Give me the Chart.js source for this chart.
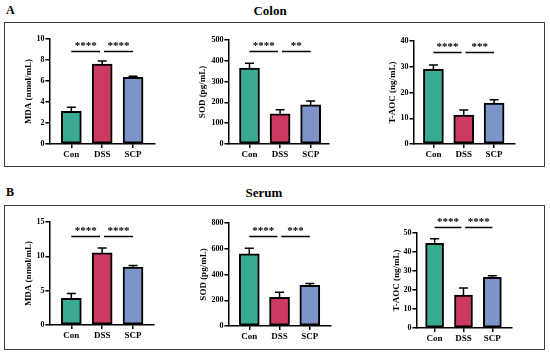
<!DOCTYPE html>
<html>
<head>
<meta charset="utf-8">
<script src="https://cdn.jsdelivr.net/npm/chart.js@4.4.1/dist/chart.umd.min.js"></script>
<style>
  body { margin: 0; background: #fff; width: 550px; height: 355px; position: relative; overflow: hidden; font-family: 'Liberation Serif', serif; font-weight: bold; }
  .frame { position: absolute; border: 1.5px solid #3c3c3c; box-sizing: border-box; }
  .lbl { position: absolute; color: #000; line-height: 1; }
  canvas { position: absolute; }
</style>
</head>
<body>
<div class="lbl" style="left:6px;top:4px;font-size:12px">A</div>
<div class="lbl" style="left:220px;width:100px;text-align:center;top:4px;font-size:13px">Colon</div>
<div class="frame" style="left:4px;top:22px;width:541px;height:145px"></div>
<div class="lbl" style="left:6px;top:186px;font-size:12px">B</div>
<div class="lbl" style="left:214px;width:100px;text-align:center;top:186px;font-size:13px">Serum</div>
<div class="frame" style="left:4px;top:205px;width:541px;height:145px"></div>

<canvas id="c1"></canvas>
<canvas id="c2"></canvas>
<canvas id="c3"></canvas>
<canvas id="c4"></canvas>
<canvas id="c5"></canvas>
<canvas id="c6"></canvas>

<script>
// groups
const groups = ['Con', 'DSS', 'SCP']
const barColors = ['#3aab93', '#cc3a62', '#7c94c7']

// Colon
const colonMDA = [3.1, 7.6, 6.35]
const colonMDAErr = [0.4, 0.3, 0.1]
const colonMDASig = ['****', '****']
const colonSOD = [365, 145, 188]
const colonSODErr = [23, 20, 19]
const colonSODSig = ['****', '**']
const colonTAOC = [29.0, 11.2, 15.9]
const colonTAOCErr = [1.7, 2.0, 1.3]
const colonTAOCSig = ['****', '***']

// Serum
const serumMDA = [3.9, 10.5, 8.45]
const serumMDAErr = [0.7, 0.7, 0.2]
const serumMDASig = ['****', '****']
const serumSOD = [560, 222, 315]
const serumSODErr = [43, 40, 15]
const serumSODSig = ['****', '***']
const serumTAOC = [44.5, 17.3, 26.7]
const serumTAOCErr = [2.5, 3.7, 0.8]
const serumTAOCSig = ['****', '****']

// y axis ranges
const yMax = [10, 500, 40, 15, 800, 50]
const yStep = [2, 100, 10, 5, 200, 10]

const FONT = 'Liberation Serif'

// error bars + significance lines
const extras = {
    id: 'extras',
    afterDatasetsDraw(chart, args, opts) {
        const ctx = chart.ctx
        const x = chart.scales.x
        const y = chart.scales.y
        const ds = chart.data.datasets[0]
        ctx.save()
        ctx.strokeStyle = '#000'
        ctx.lineWidth = 1.5
        ds.data.forEach((p, i) => {
            const px = x.getPixelForValue(p.x)
            const base = y.getPixelForValue(p.y)
            const top = y.getPixelForValue(p.y + opts.err[i])
            ctx.beginPath()
            ctx.moveTo(px, base)
            ctx.lineTo(px, top)
            ctx.moveTo(px - 4.5, top)
            ctx.lineTo(px + 4.5, top)
            ctx.stroke()
        })
        const ly = Math.round(y.getPixelForValue(opts.bracket)) + 0.5
        const spans = [[1, 1.93], [2.06, 3]]
        ctx.fillStyle = '#000'
        ctx.font = 'bold 11px ' + FONT
        ctx.textAlign = 'center'
        ctx.textBaseline = 'alphabetic'
        spans.forEach((s, i) => {
            const a = x.getPixelForValue(s[0])
            const b = x.getPixelForValue(s[1])
            ctx.beginPath()
            ctx.moveTo(a, ly)
            ctx.lineTo(b, ly)
            ctx.stroke()
            ctx.fillText(opts.sig[i], (a + b) / 2, ly - 2.5)
        })
        ctx.restore()
    }
}

function makePanel(id, vals, errs, sig, title, yi, g) {
    const W = g.titleDist + 5.4
    const H = 18
    const padTop = 24
    const left = g.axisX - W
    const top = g.yTop - padTop
    const width = g.axisRight - left + 4
    const height = g.yBottom - top + H
    const cv = document.getElementById(id)
    cv.width = width
    cv.height = height
    cv.style.left = left + 'px'
    cv.style.top = top + 'px'

    new Chart(cv, {
        type: 'bar',
        data: {
            datasets: [{
                data: vals.map((v, i) => ({ x: i + 1, y: v })),
                backgroundColor: barColors,
                borderColor: '#000',
                borderWidth: 2,
                borderSkipped: false,
                barThickness: g.barW
            }]
        },
        options: {
            responsive: false,
            devicePixelRatio: 1,
            animation: false,
            layout: { padding: { top: padTop, right: 4, left: 0, bottom: 0 } },
            plugins: {
                legend: { display: false },
                tooltip: { enabled: false },
                extras: { err: errs, sig: sig, bracket: g.bracket }
            },
            scales: {
                x: {
                    type: 'linear',
                    offset: false,
                    min: g.xMin,
                    max: g.xMax,
                    afterBuildTicks(scale) {
                        scale.ticks = groups.map((c, i) => ({ value: i + 1 }))
                    },
                    afterFit(scale) { scale.height = H },
                    ticks: {
                        callback: v => groups[v - 1],
                        autoSkip: false,
                        maxRotation: 0,
                        padding: 1,
                        color: '#000',
                        font: { family: FONT, size: 9, weight: 'bold' }
                    },
                    grid: { display: true, offset: false, drawOnChartArea: false, tickLength: 4, color: '#000', lineWidth: 1.5 },
                    border: { display: true, color: '#000', width: 1.5 }
                },
                y: {
                    min: 0,
                    max: yMax[yi],
                    afterFit(scale) { scale.width = W },
                    ticks: {
                        stepSize: yStep[yi],
                        padding: 1,
                        color: '#000',
                        font: { family: FONT, size: 8, weight: 'bold' }
                    },
                    title: {
                        display: true,
                        text: title,
                        padding: 0,
                        color: '#000',
                        font: { family: FONT, size: 9, weight: 'bold' }
                    },
                    grid: { display: true, drawOnChartArea: false, tickLength: 4, color: '#000', lineWidth: 1.5 },
                    border: { display: true, color: '#000', width: 1.5 }
                }
            }
        },
        plugins: [extras]
    })
}

makePanel('c1', colonMDA, colonMDAErr, colonMDASig, 'MDA (nmol/mL)', 0,
    { axisX: 49, axisRight: 155, yTop: 39, yBottom: 144, xMin: 0.29, xMax: 3.71, barW: 20, titleDist: 21, bracket: 8.9 })
makePanel('c2', colonSOD, colonSODErr, colonSODSig, 'SOD (pg/mL)', 1,
    { axisX: 228, axisRight: 329, yTop: 40, yBottom: 144, xMin: 0.31, xMax: 3.6, barW: 20, titleDist: 26, bracket: 447 })
makePanel('c3', colonTAOC, colonTAOCErr, colonTAOCSig, 'T-AOC (ng/mL)', 2,
    { axisX: 413, axisRight: 515, yTop: 41, yBottom: 144, xMin: 0.34, xMax: 3.69, barW: 20, titleDist: 21, bracket: 35.6 })
makePanel('c4', serumMDA, serumMDAErr, serumMDASig, 'MDA (nmol/mL)', 3,
    { axisX: 49, axisRight: 154, yTop: 222, yBottom: 325, xMin: 0.29, xMax: 3.68, barW: 20, titleDist: 21, bracket: 12.96 })
makePanel('c5', serumSOD, serumSODErr, serumSODSig, 'SOD (pg/mL)', 4,
    { axisX: 228, axisRight: 331, yTop: 223, yBottom: 326, xMin: 0.31, xMax: 3.7, barW: 20, titleDist: 25, bracket: 699 })
makePanel('c6', serumTAOC, serumTAOCErr, serumTAOCSig, 'T-AOC (ng/mL)', 5,
    { axisX: 416, axisRight: 512, yTop: 233, yBottom: 328, xMin: 0.37, xMax: 3.68, barW: 18, titleDist: 20, bracket: 53 })
</script>
</body>
</html>
